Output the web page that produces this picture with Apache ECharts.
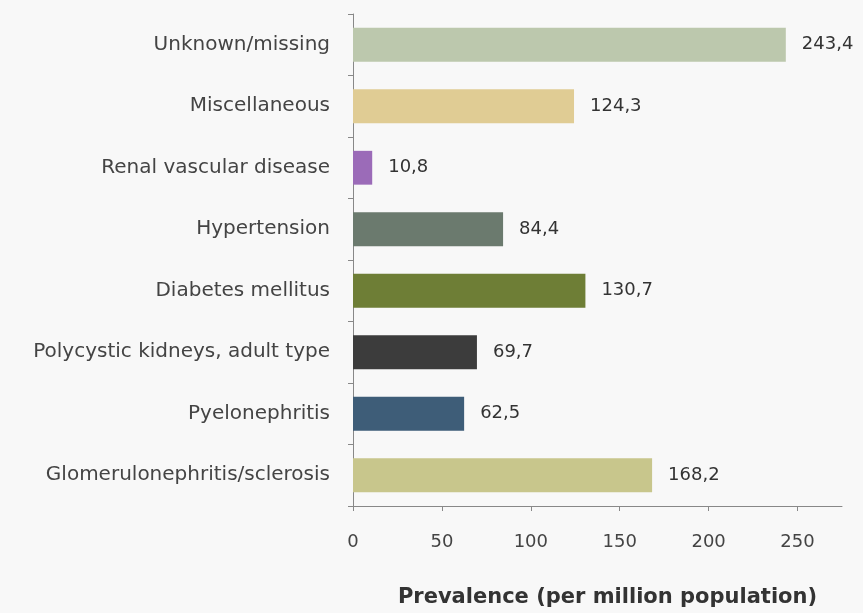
<!DOCTYPE html>
<html>
<head>
<meta charset="utf-8">
<script src="https://cdn.jsdelivr.net/npm/echarts@6/dist/echarts.min.js"></script>
<style>
html,body{margin:0;padding:0;background:#f8f8f8;}
#chart{width:863px;height:613px;}
</style>
</head>
<body>
<div id="chart"></div>
<script>
const categories = [
  "Unknown/missing",
  "Miscellaneous",
  "Renal vascular disease",
  "Hypertension",
  "Diabetes mellitus",
  "Polycystic kidneys, adult type",
  "Pyelonephritis",
  "Glomerulonephritis/sclerosis"
];
const values = [243.4, 124.3, 10.8, 84.4, 130.7, 69.7, 62.5, 168.2];
const barColors = ["#bcc8ad", "#e0cc94", "#9b6bb8", "#6b7a6e", "#6e7e36", "#3c3c3c", "#3e5d78", "#c8c68c"];
const xTicks = [0, 50, 100, 150, 200, 250];
const axisTitle = "Prevalence (per million population)";

const font = "'DejaVu Sans', sans-serif";
const chart = echarts.init(document.getElementById('chart'), null, {renderer: 'canvas'});
chart.setOption({
  backgroundColor: '#f8f8f8',
  animation: false,
  grid: {left: 353, right: 21, top: 14, bottom: 107, containLabel: false},
  xAxis: {
    type: 'value',
    min: 0,
    max: 275,
    interval: 50,
    name: axisTitle,
    nameLocation: 'middle',
    nameGap: 81,
    nameTextStyle: {fontFamily: font, fontWeight: 'bold', fontSize: 21, color: '#333', padding: [0, 0, 0, 20]},
    axisLine: {show: true, lineStyle: {color: '#888', width: 1}},
    axisTick: {show: true, length: 5, customValues: xTicks, lineStyle: {color: '#888'}},
    axisLabel: {customValues: xTicks, margin: 27, fontFamily: font, fontSize: 18, color: '#444'},
    splitLine: {show: false}
  },
  yAxis: {
    type: 'category',
    inverse: true,
    data: categories,
    axisLine: {show: true, lineStyle: {color: '#888', width: 1}},
    axisTick: {show: true, length: 5, lineStyle: {color: '#888'}},
    axisLabel: {margin: 23, fontFamily: font, fontSize: 20, color: '#444'}
  },
  series: [{
    type: 'bar',
    data: values.map((v, i) => ({value: v, itemStyle: {color: barColors[i]}})),
    barCategoryGap: '45%',
    label: {
      show: true,
      position: 'right',
      distance: 16,
      fontFamily: font,
      fontSize: 18,
      color: '#333',
      formatter: p => p.value.toFixed(1).replace('.', ',')
    }
  }]
});
</script>
</body>
</html>
